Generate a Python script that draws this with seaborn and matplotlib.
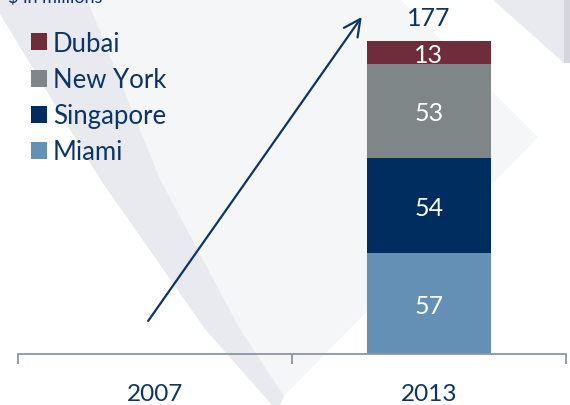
import matplotlib
matplotlib.use("Agg")
import matplotlib.pyplot as plt
from matplotlib.patches import Patch, Polygon
import numpy as np
import seaborn as sns

# data ($ in millions), stacked bottom -> top
years = ["2007", "2013"]
cities = ["Miami", "Singapore", "New York", "Dubai"]
miami = [0, 57]
singapore = [0, 54]
new_york = [0, 53]
dubai = [0, 13]
city_colors = ["#6490B6", "#002D5F", "#7E8687", "#6F2C3B"]
unit_note = r"\$ in millions"

navy = "#0C3567"
axis_grey = "#8E95A4"

sns.set_theme(style="white")
plt.rcParams["font.family"] = ["Lato", "DejaVu Sans"]

W, H = 570, 406
fig = plt.figure(figsize=(W / 100, H / 100), dpi=100)


def px(pts):
    return [(x / W, 1 - y / H) for x, y in pts]


# faint watermark shapes in the background
fig.add_artist(Polygon(px([(87, 0), (400, 0), (538, 138), (284, 397),
                           (240, 330), (160, 180)]),
                       closed=True, transform=fig.transFigure,
                       facecolor="#F5F6F7", edgecolor="none", zorder=-3))
fig.add_artist(Polygon(px([(0, 0), (87, 0), (160, 180), (240, 330), (284, 397),
                           (280, 406), (272, 406), (205, 330), (100, 180), (0, 15)]),
                       closed=True, transform=fig.transFigure,
                       facecolor="#E8EAF0", edgecolor="none", zorder=-3))
fig.add_artist(Polygon(px([(492, 0), (570, 0), (570, 64), (564, 64)]),
                       closed=True, transform=fig.transFigure,
                       facecolor="#E8EAF0", edgecolor="none", zorder=-3))
fig.add_artist(Polygon(px([(564, 0), (570, 0), (570, 64), (564, 64)]),
                       closed=True, transform=fig.transFigure,
                       facecolor="#D3D6DF", edgecolor="none", zorder=-2))

ax = fig.add_axes([17.7 / W, 51 / H, 548.3 / W, 355 / H])
ax.patch.set_alpha(0)

values = np.array([miami, singapore, new_york, dubai], dtype=float)
tops = values.cumsum(axis=0)

# overlapping cumulative bars, tallest first, give the stacked look
for i in range(len(cities) - 1, -1, -1):
    sns.barplot(x=years, y=tops[i], order=years, color=city_colors[i],
                saturation=1, width=0.455, linewidth=0, errorbar=None, ax=ax)

for i in range(len(cities)):
    for j in range(len(years)):
        if values[i, j] > 0:
            ax.text(j, tops[i, j] - values[i, j] / 2, f"{values[i, j]:.0f}",
                    ha="center", va="center_baseline", color="white", fontsize=18)

totals = tops[-1]
for j, t in enumerate(totals):
    if t > 0:
        ax.annotate(f"{t:.0f}", (j, t), xytext=(0, 18), textcoords="offset points",
                    ha="center", va="center_baseline", color=navy, fontsize=18)

# growth arrow from 2007 up towards the 2013 total
ax.annotate("", xy=(0.755, totals[-1] + 13.6), xytext=(-0.024, 18.7),
            arrowprops=dict(arrowstyle="->,head_length=0.6,head_width=0.3",
                            color=navy, lw=1.6, mutation_scale=20,
                            shrinkA=0, shrinkB=0))

ax.set_xlim(-0.5, 1.5)
ax.set_ylim(0, 200.75)
ax.set_yticks([])
ax.set_xlabel("")
ax.set_ylabel("")
sns.despine(ax=ax, left=True)
ax.spines["bottom"].set_color(axis_grey)
ax.spines["bottom"].set_linewidth(1.3)
ax.set_xticks([-0.5, 0.5, 1.5], minor=True)
ax.tick_params(axis="x", which="both", bottom=True)
ax.tick_params(axis="x", which="minor", length=7, width=1.3, color=axis_grey,
               direction="out")
ax.tick_params(axis="x", which="major", length=0, pad=21, labelsize=17.5,
               labelcolor=navy)

handles = [Patch(facecolor=city_colors[i], edgecolor="none", label=cities[i])
           for i in range(len(cities) - 1, -1, -1)]
ax.legend(handles=handles, loc="upper left", bbox_to_anchor=(31 / W, 1 - 32 / H),
          bbox_transform=fig.transFigure, frameon=False, fontsize=18.5,
          handlelength=0.64, handleheight=0.64, handletextpad=0.22,
          labelspacing=0.43, borderpad=0, borderaxespad=0, labelcolor=navy)

fig.text(8 / W, 1 - 3 / H, unit_note, ha="left", va="baseline",
         color=navy, fontsize=13)

fig.savefig("out.png", dpi=100)
